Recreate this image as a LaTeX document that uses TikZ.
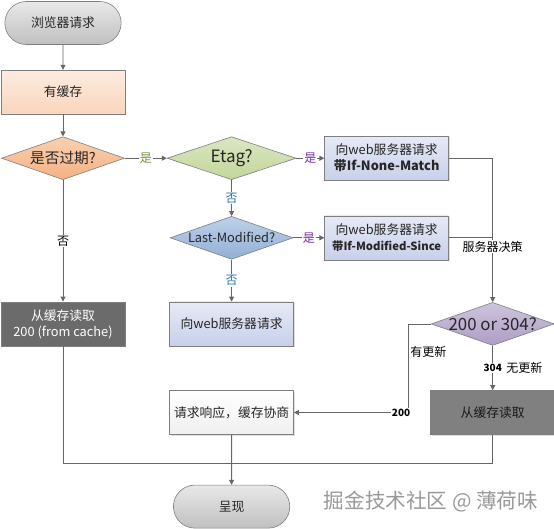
\documentclass[tikz,border=0pt]{standalone}
\usepackage{fontspec}
\newfontfamily\cjk{Noto Sans CJK SC}
\usepackage{tikz}
\usetikzlibrary{
    shapes.geometric, shapes.misc,
    arrows.meta, positioning, shadows
}
\definecolor{linec}{HTML}{666666}
\definecolor{bordc}{HTML}{7F7F7F}
\definecolor{yesg}{HTML}{76923C}
\definecolor{yesp}{HTML}{7030A0}
\definecolor{nob}{HTML}{2E75B6}
\definecolor{termtop}{HTML}{E8E8E8}
\definecolor{termbot}{HTML}{C0C0C0}
\definecolor{cachetop}{HTML}{FDECE0}
\definecolor{cachebot}{HTML}{F9D5BC}
\definecolor{exptop}{HTML}{FAD0B0}
\definecolor{expbot}{HTML}{F4B183}
\definecolor{etagtop}{HTML}{DAE6C2}
\definecolor{etagbot}{HTML}{C3D69B}
\definecolor{lmtop}{HTML}{BCD0E8}
\definecolor{lmbot}{HTML}{92B0D5}
\definecolor{reqtop}{HTML}{E6EAF6}
\definecolor{reqbot}{HTML}{C8D0EA}
\definecolor{dectop}{HTML}{CEC4DD}
\definecolor{decbot}{HTML}{AE9DC5}
\tikzset{
  base/.style={draw=bordc, line width=0.6pt, align=center, text=black!85,
               font=\cjk\fontsize{12.8}{16}\selectfont},
  term/.style={base, rounded rectangle, minimum width=123pt, minimum height=43pt,
               top color=termtop, bottom color=termbot},
  proc/.style={base, rectangle, minimum width=124pt, minimum height=44pt,
               drop shadow={shadow xshift=1.2pt, shadow yshift=-1.2pt, fill=black!25}},
  req/.style={proc, top color=reqtop, bottom color=reqbot},
  decision/.style={base, diamond, aspect=2.8, inner sep=-6pt,
                   minimum width=123pt, minimum height=43pt},
  arr/.style={-{Triangle[length=5pt, width=5pt]}, draw=linec, line width=0.8pt},
  link/.style={draw=linec, line width=0.8pt},
  lbl/.style={fill=white, inner sep=1pt, font=\cjk\fontsize{12}{12}\selectfont},
  code/.style={lbl, font=\cjk\fontsize{10}{11}\selectfont\bfseries},
  note/.style={inner sep=2pt, font=\cjk\fontsize{12}{12}\selectfont},
}

\begin{document}
\begin{tikzpicture}[x=1pt, y=-1pt]
  \useasboundingbox (0,0) rectangle (554,528);
  \node[term] (start) at (63,23) {浏览器请求};
  \node[proc, top color=cachetop, bottom color=cachebot, below=25pt of start] (cache) {有缓存};
  \node[decision, font=\cjk\fontsize{14.7}{16}\selectfont,
        top color=exptop, bottom color=expbot, below=22pt of cache] (expired) {是否过期?};
  \node[decision, minimum width=129pt, font=\cjk\fontsize{17}{18}\selectfont,
        top color=etagtop, bottom color=etagbot, right=42pt of expired] (etag) {Etag?};
  \node[req, right=28pt of etag] (nonematch)
    {向web服务器请求\\\textbf{带If-None-Match}};
  \node[decision, font=\cjk\fontsize{12.8}{14}\selectfont,
        top color=lmtop, bottom color=lmbot, below=36pt of etag] (lastmod) {Last-Modified?};
  \node[req] (modsince) at (nonematch |- lastmod)
    {向web服务器请求\\{\fontsize{11.3}{16}\selectfont\bfseries 带If-Modified-Since}};
  \node[req, below=42pt of lastmod] (reqweb) {向web服务器请求};
  \node[proc, fill=black!58, text=white] (fromcacheL) at (expired |- reqweb)
    {从缓存读取\\200 (from cache)};
  \node[decision, font=\cjk\fontsize{16.8}{18}\selectfont,
        top color=dectop, bottom color=decbot, right=137pt of reqweb] (decide) {200 or 304?};
  \node[proc, top color=white, bottom color=gray!12, below=44pt of reqweb] (negotiate) {请求响应，缓存协商};
  \node[proc, fill=black!50, text=black!90] (fromcacheR) at (decide |- negotiate) {从缓存读取};
  \node[term, below=50pt of negotiate] (show) {呈现};
  \coordinate[below=29pt of negotiate] (merge);

  \draw[arr] (start) -- (cache);
  \draw[arr] (cache) -- (expired);
  \draw[arr] (expired) -- node[lbl, text=yesg] {是} (etag);
  \draw[arr] (etag) -- node[lbl, text=yesp] {是} (nonematch);
  \draw[arr] (etag) -- node[lbl, text=nob] {否} (lastmod);
  \draw[arr] (lastmod) -- node[lbl, text=yesp] {是} (modsince);
  \draw[arr] (lastmod) -- node[lbl, text=nob] {否} (reqweb);
  \draw[arr] (expired) -- node[lbl] {否} (fromcacheL);
  \draw[arr] (nonematch.east) -| (decide.north);
  \draw[link] (modsince.east) -- (modsince.east -| decide.north)
    node[lbl, below=2pt] {服务器决策};
  \draw[arr] (decide.west) -- ++(-23,0) |- (negotiate.east)
    node[note, pos=0.16, right] {有更新}
    node[code, pos=0.53] {200};
  \draw[arr] (decide) -- node[code] (n304) {304} (fromcacheR);
  \node[note, right=1pt of n304] (nochange) {无更新};
  \draw[link] (fromcacheL.south) -- (fromcacheL.south |- merge)
    -- (fromcacheR.south |- merge) -- (fromcacheR.south);
  \draw[arr] (negotiate) -- (show);

  \node[font=\cjk\fontsize{20.6}{21}\selectfont, text=gray!80] (mark) at (431,502) {掘金技术社区 @ 薄荷味};
\end{tikzpicture}
\end{document}
